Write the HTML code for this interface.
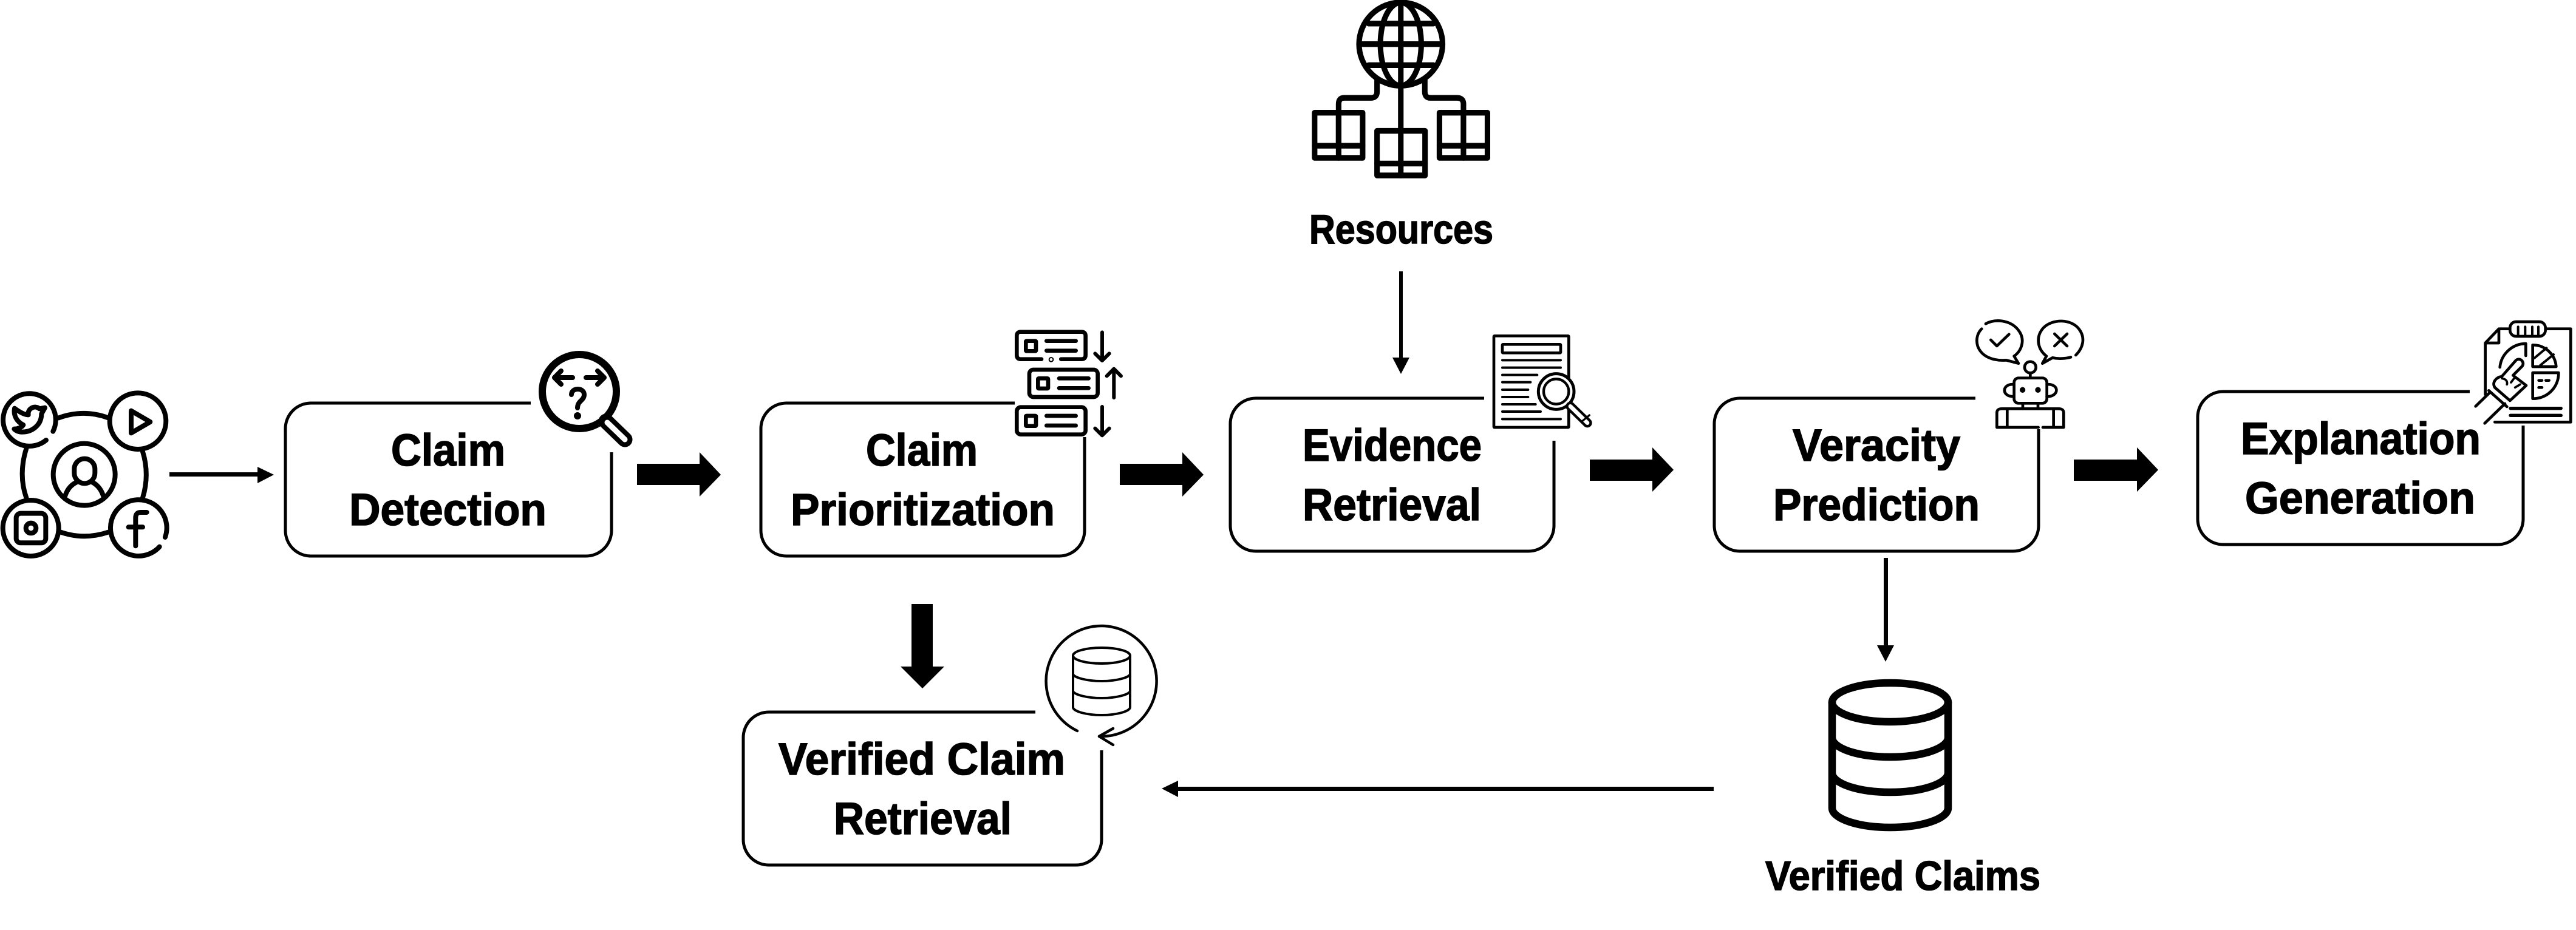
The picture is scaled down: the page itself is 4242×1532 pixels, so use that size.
<!DOCTYPE html>
<html lang="en">
<head>
<meta charset="utf-8">
<title>Fact-checking pipeline</title>
<style>
html,body{margin:0;padding:0;background:#fff;width:4242px;height:1532px;overflow:hidden}
svg{display:block}
text{font-family:"Liberation Sans",Arial,sans-serif;font-weight:700;fill:#000;stroke:#000;stroke-width:1.6px}
.box{fill:none;stroke:#000;stroke-width:5}
.ic{fill:none;stroke:#000;stroke-linecap:round;stroke-linejoin:round}
</style>
</head>
<body>
<svg xmlns="http://www.w3.org/2000/svg" width="4242" height="1532" viewBox="0 0 4242 1532">
<rect width="4242" height="1532" fill="#fff"/>

<!-- process boxes -->
<path class="box" d="M874 664H512A42 42 0 0 0 470 706V874A42 42 0 0 0 512 916H965A42 42 0 0 0 1007 874V745"/>
<path class="box" d="M1671 664H1295A42 42 0 0 0 1253 706V874A42 42 0 0 0 1295 916H1744A42 42 0 0 0 1786 874V720"/>
<path class="box" d="M2444 656H2068A42 42 0 0 0 2026 698V866A42 42 0 0 0 2068 908H2517A42 42 0 0 0 2559 866V726"/>
<path class="box" d="M3253 656H2865A42 42 0 0 0 2823 698V866A42 42 0 0 0 2865 908H3315A42 42 0 0 0 3357 866V707"/>
<path class="box" d="M4067 645H3661A42 42 0 0 0 3619 687V855A42 42 0 0 0 3661 897H4113A42 42 0 0 0 4155 855V701"/>
<path class="box" d="M1705 1173H1266A42 42 0 0 0 1224 1215V1383A42 42 0 0 0 1266 1425H1772A42 42 0 0 0 1814 1383V1236"/>

<!-- labels -->
<text x="644" y="767" font-size="74" textLength="188" lengthAdjust="spacingAndGlyphs">Claim</text>
<text x="575" y="865" font-size="74" textLength="325" lengthAdjust="spacingAndGlyphs">Detection</text>
<text x="1426" y="767" font-size="74" textLength="184" lengthAdjust="spacingAndGlyphs">Claim</text>
<text x="1302" y="865" font-size="74" textLength="435" lengthAdjust="spacingAndGlyphs">Prioritization</text>
<text x="2145" y="759" font-size="74" textLength="295" lengthAdjust="spacingAndGlyphs">Evidence</text>
<text x="2145" y="857" font-size="74" textLength="294" lengthAdjust="spacingAndGlyphs">Retrieval</text>
<text x="2952" y="759" font-size="74" textLength="276" lengthAdjust="spacingAndGlyphs">Veracity</text>
<text x="2920" y="857" font-size="74" textLength="340" lengthAdjust="spacingAndGlyphs">Prediction</text>
<text x="3690" y="748" font-size="74" textLength="395" lengthAdjust="spacingAndGlyphs">Explanation</text>
<text x="3697" y="846" font-size="74" textLength="379" lengthAdjust="spacingAndGlyphs">Generation</text>
<text x="1282" y="1276" font-size="74" textLength="472" lengthAdjust="spacingAndGlyphs">Verified Claim</text>
<text x="1373" y="1374" font-size="74" textLength="293" lengthAdjust="spacingAndGlyphs">Retrieval</text>
<text x="2156" y="401" font-size="68" textLength="303" lengthAdjust="spacingAndGlyphs">Resources</text>
<text x="2907" y="1466" font-size="68" textLength="453" lengthAdjust="spacingAndGlyphs">Verified Claims</text>

<!-- block arrows -->
<polygon points="1049,764 1152,764 1152,745 1187,782 1152,818 1152,799 1049,799"/>
<polygon points="1844,764 1947,764 1947,745 1982,782 1947,818 1947,799 1844,799"/>
<polygon points="2618,757 2721,757 2721,737 2756,774 2721,810 2721,792 2618,792"/>
<polygon points="3415,757 3519,757 3519,737 3554,774 3519,810 3519,792 3415,792"/>
<polygon points="1501,995 1536,995 1536,1098 1555,1098 1519,1134 1483,1098 1501,1098"/>

<!-- thin arrows -->
<rect x="279" y="778" width="148" height="7"/><polygon points="424,769 451,782 424,796"/>
<rect x="2304" y="447" width="6" height="144"/><polygon points="2293,589 2321,589 2307,616"/>
<rect x="3102" y="919" width="7" height="146"/><polygon points="3091,1063 3119,1063 3105,1090"/>
<rect x="1938" y="1296" width="884" height="7"/><polygon points="1940,1286 1940,1313 1913,1299"/>

<!-- social icon -->
<g class="ic" stroke-width="24" transform="translate(0 620) scale(.3333)">
<path d="M228 315A130 130 0 1 1 262 272"/>
<circle cx="681" cy="221" r="139"/>
<circle cx="152" cy="750" r="138"/>
<path d="M788 842A139 139 0 1 1 816 795"/>
<circle cx="416" cy="485" r="153"/>
<path d="M72 158C95 175 120 190 140 190C135 160 170 140 195 160L222 155L205 185C205 240 160 275 110 275C95 275 80 270 70 260C90 260 110 250 115 240C85 225 65 195 72 158Z"/>
<path d="M648 170L742 225L648 280Z"/>
<rect x="80" y="677" width="146" height="146" rx="22"/>
<circle cx="153" cy="750" r="25"/>
<path d="M725 672H695Q670 672 670 700V838M635 745H705"/>
<rect x="367" y="407" width="102" height="122" rx="51"/>
<path d="M322 590C335 550 360 530 385 520M510 590C497 550 472 530 450 520"/>
<path d="M290 205Q415 160 535 205M705 372Q740 485 705 600M300 770Q415 810 535 770M130 357Q90 485 130 600"/>
</g>

<!-- claim detection magnifier -->
<g class="ic">
<circle cx="954" cy="645" r="61" stroke-width="12"/>
<path d="M998 694L1029 724" stroke-width="25"/>
<path d="M1000 696L1029 724" stroke="#fff" stroke-width="9"/>
<path d="M913 622H943M924 611L913 622L924 633M995 622H965M984 611L995 622L984 633" stroke-width="8"/>
<path d="M941 650C941 638 962 638 962 650C962 660 951 660 951 672" stroke-width="8"/>
<circle cx="951" cy="685" r="3" stroke-width="6"/>
</g>

<!-- prioritization icon -->
<g class="ic" stroke-width="20" transform="translate(1650 520) scale(.3333)">
<path d="M195 215H93Q73 215 73 195V100Q73 80 93 80H393Q413 80 413 100V195Q413 215 393 215H292"/>
<circle cx="243" cy="217" r="3"/>
<rect x="118" y="125" width="50" height="50" rx="3"/>
<path d="M220 125H365M220 173H365"/>
<path d="M495 82V215M460 187L495 222L530 187" stroke-width="18"/>
<rect x="135" y="267" width="338" height="135" rx="20"/>
<rect x="178" y="310" width="50" height="50" rx="3"/>
<path d="M282 310H428M282 358H428"/>
<path d="M553 405V270M518 298L553 263L588 298" stroke-width="18"/>
<rect x="73" y="452" width="340" height="135" rx="20"/>
<rect x="118" y="495" width="50" height="50" rx="3"/>
<path d="M220 495H365M220 543H365"/>
<path d="M495 450V585M460 557L495 592L530 557" stroke-width="18"/>
</g>

<!-- resources globe and books -->
<g class="ic" stroke-width="23" transform="translate(2000 0) scale(.3953 .4082)">
<ellipse cx="776" cy="178" rx="174" ry="168"/>
<ellipse cx="776" cy="178" rx="85" ry="168"/>
<path d="M776 10V346M642 95H912M606 178H948M642 263H912"/>
<path d="M677 320V370Q677 395 650 395H540Q517 395 517 420V580M876 320V370Q876 395 900 395H1010Q1037 395 1037 420V580M776 350V520"/>
<rect x="417" y="455" width="200" height="182"/>
<path d="M517 455V637M417 588H617"/>
<rect x="677" y="528" width="200" height="180"/>
<path d="M776 528V708M677 660H877"/>
<rect x="937" y="455" width="200" height="182"/>
<path d="M1037 455V637M937 588H1137"/>
</g>

<!-- evidence document icon -->
<g class="ic" transform="translate(2440 530) scale(.3333)">
<rect x="60" y="70" width="370" height="452" stroke-width="14" rx="3"/>
<rect x="102" y="112" width="288" height="42" stroke-width="14" rx="3"/>
<path stroke-width="12" d="M102 190H390M102 227H390M102 263H274M102 299H241M102 336H229M102 372H229M102 408H266M102 444H291M102 481H390"/>
<circle cx="368" cy="345" r="88" stroke-width="15" fill="#fff"/>
<circle cx="368" cy="345" r="62" stroke-width="13" fill="#fff"/>
<path d="M438 418L522 500" stroke-width="46"/>
<path d="M438 418L522 500" stroke="#fff" stroke-width="20"/>
<path d="M492 495L532 462" stroke-width="10"/>
</g>

<!-- robot icon -->
<g class="ic" stroke-width="14" transform="translate(3200 500) scale(.3333)">
<path d="M210 100C255 75 330 80 370 130C410 180 385 235 350 260L372 296L312 280C250 285 190 265 170 210C160 175 170 145 190 125"/>
<path d="M235 180L265 210L325 152"/>
<path d="M655 255C690 220 705 170 670 125C630 75 540 75 495 120C455 165 465 225 510 260L490 296L540 268C570 275 605 272 630 265"/>
<path d="M550 150L612 210M612 150L550 210"/>
<circle cx="430" cy="315" r="28"/>
<path d="M430 345V365"/>
<rect x="350" y="368" width="162" height="125" rx="22"/>
<circle cx="392" cy="427" r="7"/><circle cx="468" cy="427" r="7"/>
<path d="M348 400C290 395 285 460 348 460M512 400C575 395 575 460 512 460"/>
<path d="M393 495V520M468 495V520"/>
<path d="M470 612H265V540Q265 520 290 520H570Q595 520 595 540V612H492M316 520V612M545 520V612"/>
</g>

<!-- explanation icon -->
<g class="ic" stroke-width="14" stroke-linecap="butt" transform="translate(4040 510) scale(.3333)">
<path d="M205 556H580V95H460M280 95H225L158 165V420M225 95V165H158"/>
<rect x="280" y="60" width="175" height="72" rx="30"/>
<path d="M320 85V130M355 85V130M390 85V130M420 85V130" stroke-width="12"/>
<path d="M230 285A130 130 0 0 1 358 168V228"/>
<path d="M392 175V282H508A115 115 0 0 0 392 175Z"/>
<path d="M400 240L460 190M430 275L495 222" stroke-width="12"/>
<path d="M392 312V440A125 125 0 0 0 520 312Z"/>
<path d="M422 350H438M457 350H473M422 385H438" stroke-width="14"/>
<path d="M282 488H532M282 523H532" stroke-width="16"/>
<path d="M240 330L310 250C330 235 355 260 340 280L295 325L360 375L280 450L205 385C190 360 210 335 240 330Z" fill="#fff"/>
<path d="M240 340Q270 345 265 370M300 340L285 360M330 370L305 385" stroke-width="11"/>
<path d="M175 400L265 480M110 478L178 412M155 562L255 465" stroke-width="14"/>
</g>

<!-- verified claim DB icon -->
<g class="ic" stroke-width="4">
<path d="M1810 1213A91 91 0 1 0 1774 1204" stroke-width="4.5"/>
<path d="M1833 1200L1810 1213L1833 1227" stroke-width="4.5"/>
<ellipse cx="1814" cy="1080" rx="47" ry="13"/>
<path d="M1767 1080V1165C1767 1172 1790 1178 1814 1178C1838 1178 1861 1172 1861 1165V1080M1767 1110C1767 1116 1790 1122 1814 1122C1838 1122 1861 1116 1861 1110M1767 1138C1767 1144 1790 1150 1814 1150C1838 1150 1861 1144 1861 1138"/>
</g>

<!-- verified claims big DB -->
<g class="ic" stroke-width="12.5">
<ellipse cx="3112.5" cy="1157" rx="95.5" ry="32"/>
<path d="M3017 1157V1331A95.5 32 0 0 0 3208 1331V1157M3017 1215A95.5 32 0 0 0 3208 1215M3017 1273A95.5 32 0 0 0 3208 1273"/>
</g>
</svg>
</body>
</html>
